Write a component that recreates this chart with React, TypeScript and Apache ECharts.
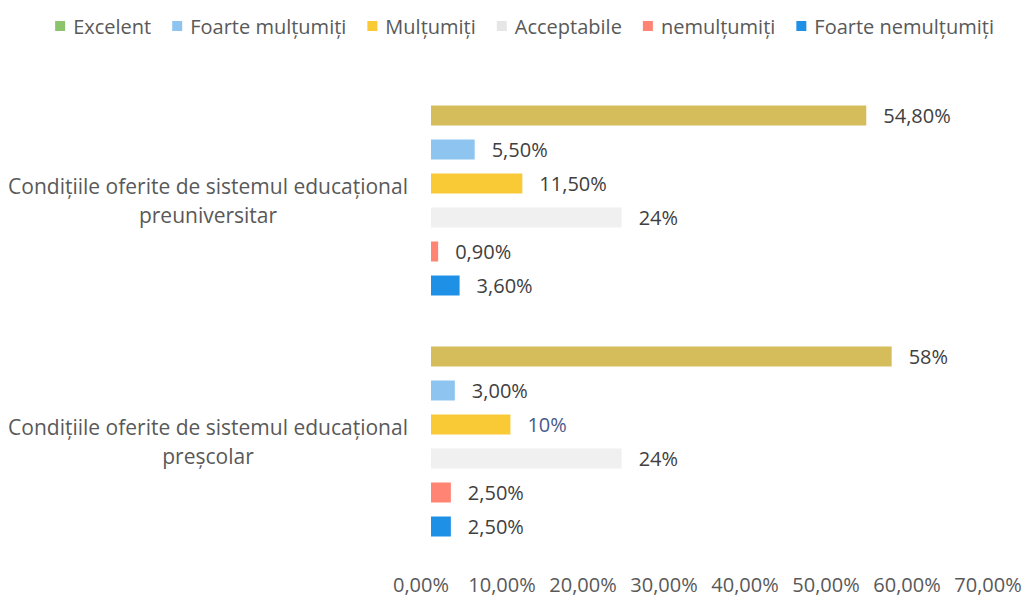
import React, { useEffect, useRef } from "react";
import * as echarts from "echarts";

const categories = [
  "Condițiile oferite de sistemul educațional\npreuniversitar",
  "Condițiile oferite de sistemul educațional\npreșcolar",
];
const seriesNames = ["Excelent", "Foarte mulțumiți", "Mulțumiți", "Acceptabile", "nemulțumiți", "Foarte nemulțumiți"];
const excelent = [54.8, 58];
const foarteMultumiti = [5.5, 3.0];
const multumiti = [11.5, 10];
const acceptabile = [24, 24];
const nemultumiti = [0.9, 2.5];
const foarteNemultumiti = [3.6, 2.5];
const valueLabels = [
  ["54,80%", "58%"],
  ["5,50%", "3,00%"],
  ["11,50%", "10%"],
  ["24%", "24%"],
  ["0,90%", "2,50%"],
  ["3,60%", "2,50%"],
];
const xTicks = [0, 10, 20, 30, 40, 50, 60, 70];

const barColors = ["#d6bd5c", "#8ec5f0", "#f9c936", "#f0f0f0", "#ff8473", "#1e90e6"];
const legendColors = ["#8cc46e", "#8ec5f0", "#f9c936", "#e6e6e6", "#ff8473", "#1e90e6"];

export default function App() {
  const ref = useRef<HTMLDivElement>(null);
  useEffect(() => {
    if (!ref.current) return;
    const chart = echarts.init(ref.current, null, { renderer: "svg" });
    const font = "'Open Sans', sans-serif";
    const allData = [excelent, foarteMultumiti, multumiti, acceptabile, nemultumiti, foarteNemultumiti];
    const xMin = xTicks[0];
    const xMax = xTicks[xTicks.length - 1];
    chart.setOption({
      animation: false,
      textStyle: { fontFamily: font },
      legend: {
        top: 11,
        right: 28,
        itemWidth: 10,
        itemHeight: 10,
        itemGap: 21,
        icon: "rect",
        textStyle: { color: "#595959", fontSize: 20, fontFamily: font, padding: [0, 0, 0, 3] },
        data: seriesNames.map((n, i) => ({ name: n, itemStyle: { color: legendColors[i] } })),
      },
      grid: [
        { left: 431, right: 40, top: 80, bottom: 41, containLabel: false },
        { left: 421, right: 39, top: 80, bottom: 41, containLabel: false },
      ],
      xAxis: [
        {
          type: "value",
          gridIndex: 0,
          min: xMin,
          max: xMax,
          interval: 10,
          splitLine: { show: false },
          axisLine: { show: false },
          axisTick: { show: false },
          axisLabel: { show: false },
        },
        {
          type: "value",
          gridIndex: 1,
          min: xMin,
          max: xMax,
          interval: 10,
          splitLine: { show: false },
          axisLine: { show: false },
          axisTick: { show: false },
          axisLabel: {
            color: "#595959",
            fontSize: 20,
            fontFamily: font,
            margin: 12,
            formatter: (v: number) => v.toFixed(2).replace(".", ",") + "%",
          },
        },
      ],
      yAxis: [
        {
          type: "category",
          gridIndex: 0,
          inverse: true,
          data: categories,
          axisLine: { show: false },
          axisTick: { show: false },
          axisLabel: {
            color: "#595959",
            fontSize: 21,
            fontFamily: font,
            align: "center",
            margin: 223,
            lineHeight: 29,
          },
        },
        {
          type: "category",
          gridIndex: 1,
          data: categories,
          show: false,
        },
      ],
      series: seriesNames.map((name, si) => ({
        name,
        type: "bar",
        xAxisIndex: 0,
        yAxisIndex: 0,
        barWidth: 20,
        barGap: "70%",
        itemStyle: { color: barColors[si] },
        label: {
          show: true,
          position: "right",
          distance: 17,
          color: "#404040",
          fontSize: 20,
          fontFamily: font,
          formatter: (p: any) => valueLabels[si][p.dataIndex],
        },
        data: allData[si].map((v, di) =>
          si === 2 && di === 1
            ? { value: v, label: { color: "#4a5a8c" } }
            : v
        ),
      })),
    });
    return () => chart.dispose();
  }, []);
  return (
    <div
      ref={ref}
      style={{ position: "absolute", left: 0, top: 0, width: 1027, height: 603, background: "#fff" }}
    />
  );
}
